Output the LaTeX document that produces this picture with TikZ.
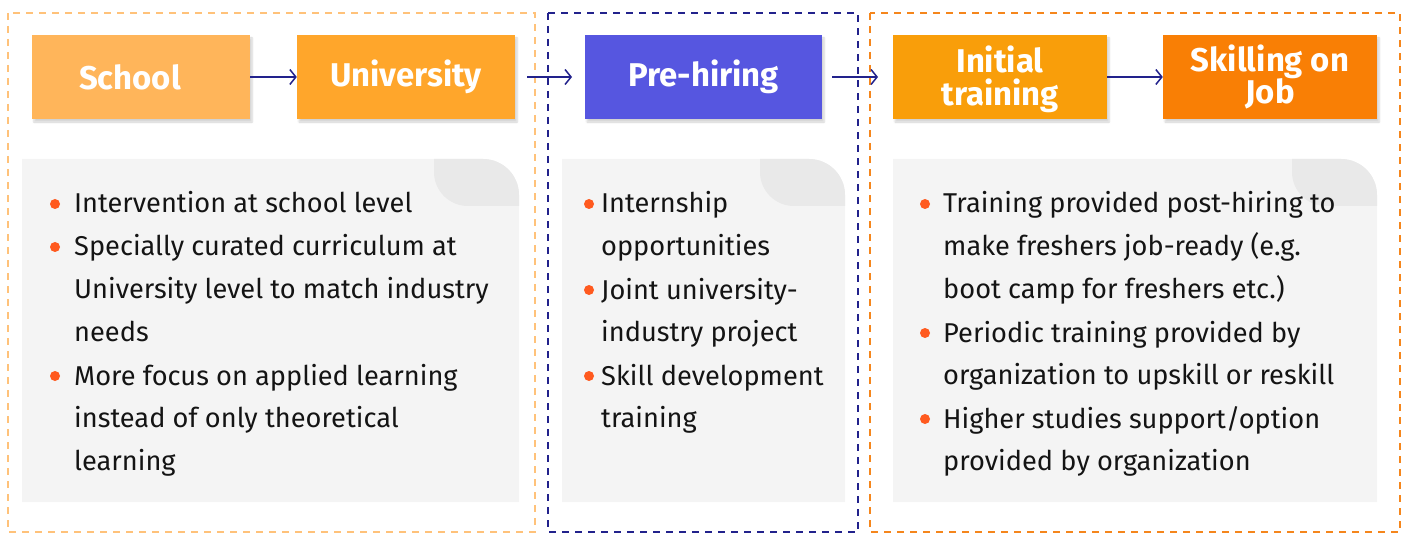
\documentclass[tikz,border=0pt]{standalone}
\usepackage{fontspec}
\setmainfont{Fira Sans}
\usetikzlibrary{arrows.meta,shadows.blur}

\definecolor{schoolC}{HTML}{FFB55A}
\definecolor{uniC}{HTML}{FFA62B}
\definecolor{preC}{HTML}{5656E0}
\definecolor{initC}{HTML}{F99E0A}
\definecolor{jobC}{HTML}{F97F05}
\definecolor{navy}{HTML}{22228C}
\definecolor{lightOr}{HTML}{FFC27A}
\definecolor{darkOr}{HTML}{F5861C}
\definecolor{panel}{HTML}{F4F4F4}
\definecolor{panelCorner}{HTML}{E9E9E9}
\definecolor{dot}{HTML}{FF5A1F}
\definecolor{ink}{HTML}{141414}

\tikzset{
  stage/.style={fill=#1, minimum width=218bp, minimum height=84bp, inner sep=0pt,
    text=white, align=center,
    font=\fontsize{33}{33}\selectfont\bfseries,
    blur shadow={shadow blur steps=6, shadow xshift=2bp, shadow yshift=-3bp, shadow opacity=18}},
  flow/.style={navy, line width=1.5bp, -{Straight Barb[length=6bp,width=15bp]}},
  phase/.style={line width=1.5bp, dash pattern=on 7bp off 6bp},
  item/.style={anchor=base west, inner sep=0pt, text=ink,
    font=\fontsize{27.3}{43}\selectfont},
  bullet/.style={circle, fill=dot, inner sep=0pt, minimum size=10bp},
}

% a grey panel with a rounded top-right corner and a darker corner patch
\newcommand{\infopanel}[3]{% left, right, name
  \fill[panel] (#1,159) -- ({#2-36},159) arc[start angle=90,end angle=0,radius=36bp]
    -- (#2,502) -- (#1,502) -- cycle;
  \fill[panelCorner] ({#2-85},159) -- ({#2-36},159) arc[start angle=90,end angle=0,radius=36bp]
    -- (#2,206) -- ({#2-51},206) arc[start angle=270,end angle=180,radius=34bp] -- cycle;
  \coordinate (#3) at (#1,159);
}

\begin{document}
\begin{tikzpicture}[x=1bp,y=-1bp]
\useasboundingbox (0,0) rectangle (1407,534);

% phase frames
\draw[phase, lightOr] (8,13) rectangle (535,532);
\draw[phase, navy] (548,13) rectangle (858,532);
\draw[phase, darkOr] (870,13) rectangle (1400,532);

% stages
\node[stage=schoolC, minimum width=218bp] (school) at (141,77) {School\hspace*{22bp}};
\node[stage=uniC] (uni) at (406,77) {University};
\node[stage=preC, minimum width=237bp] (pre) at (703.5,77) {Pre-hiring};
\node[stage=initC, minimum width=214bp, text depth=2bp] (init) at (1000,77) {Initial\\training};
\node[stage=jobC, minimum width=214bp] (job) at (1270,77) {Skilling on\\Job};

% flow arrows
\coordinate (uniOut) at (527,77);
\coordinate (preIn) at (572,77);
\coordinate (preOut) at (832,77);
\coordinate (initIn) at (878,77);
\draw[flow] (school.east) -- (uni.west);
\draw[flow] (uniOut) -- (preIn);
\draw[flow] (preOut) -- (initIn);
\draw[flow] (init.east) -- (job.west);

% panels
\infopanel{22}{519}{panelA}
\infopanel{562}{845}{panelB}
\infopanel{893}{1377}{panelC}

% left panel items
\node[bullet] (a1d) at (55,204) {};
\node[item] (a1) at (74,213) {\parbox[t]{460bp}{\raggedright Intervention at school level}};
\node[bullet] (a2d) at (55,247) {};
\node[item] (a2) at (74,256) {\parbox[t]{460bp}{\raggedright Specially curated curriculum at\\University level to match industry\\needs}};
\node[bullet] (a3d) at (55,376) {};
\node[item] (a3) at (74,385) {\parbox[t]{460bp}{\raggedright More focus on applied learning\\instead of only theoretical\\learning}};

% middle panel items
\node[bullet] (b1d) at (589,204) {};
\node[item] (b1) at (601,213) {\parbox[t]{260bp}{\raggedright Internship\\opportunities}};
\node[bullet] (b2d) at (589,290) {};
\node[item] (b2) at (601,299) {\parbox[t]{260bp}{\raggedright Joint university-\\industry project}};
\node[bullet] (b3d) at (589,376) {};
\node[item] (b3) at (601,385) {\parbox[t]{260bp}{\raggedright Skill development\\training}};

% right panel items
\node[bullet] (c1d) at (925,204) {};
\node[item] (c1) at (943,213) {\parbox[t]{440bp}{\raggedright Training provided post-hiring to\\make freshers job-ready (e.g.\\boot camp for freshers etc.)}};
\node[bullet] (c2d) at (925,333) {};
\node[item] (c2) at (943,342) {\parbox[t]{440bp}{\raggedright Periodic training provided by\\organization to upskill or reskill}};
\node[bullet] (c3d) at (925,419) {};
\node[item] (c3) at (943,428) {\parbox[t]{440bp}{\raggedright Higher studies support/option\\provided by organization}};
\end{tikzpicture}
\end{document}
